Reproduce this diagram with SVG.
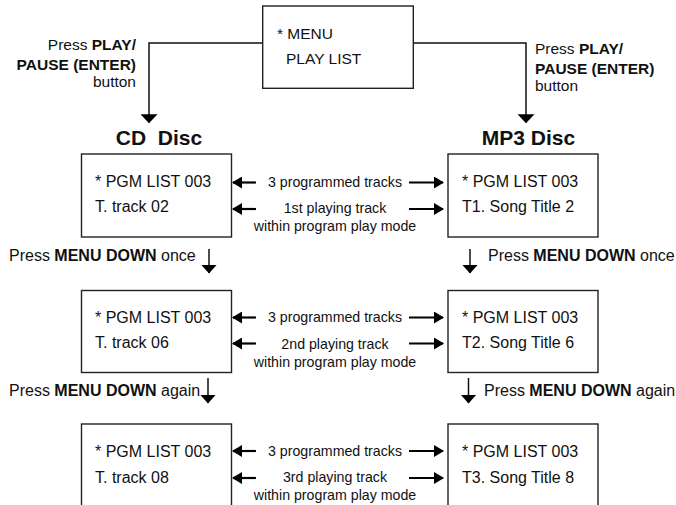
<svg xmlns="http://www.w3.org/2000/svg" width="676" height="505" viewBox="0 0 676 505">
<style>
  .box{fill:#fff;stroke:#222;stroke-width:1.4}
  .ln{fill:none;stroke:#111;stroke-width:1.5}
  .hz{fill:none;stroke:#000;stroke-width:2.2}
  text{font-family:"Liberation Sans",Arial,sans-serif;fill:#111}
  .t16{font-size:16px}
  .t15{font-size:15.5px}
  .mid{font-size:14.2px;text-anchor:middle}
  .hd{font-size:21px;font-weight:bold;text-anchor:middle}
  .b{font-weight:bold}
</style>
<defs>
  <marker id="ah" markerUnits="userSpaceOnUse" viewBox="0 0 10 12" refX="9" refY="6" markerWidth="10" markerHeight="12" orient="auto">
    <path d="M0,0 L10,6 L0,12 z" fill="#000"/>
  </marker>
  <marker id="ad" markerUnits="userSpaceOnUse" viewBox="0 0 9 16" refX="8.5" refY="8" markerWidth="9" markerHeight="16" orient="auto">
    <path d="M0,0 L9,8 L0,16 z" fill="#000"/>
  </marker>
  <marker id="at" markerUnits="userSpaceOnUse" viewBox="0 0 9 17" refX="8.5" refY="8.5" markerWidth="9" markerHeight="17" orient="auto">
    <path d="M0,0 L9,8.5 L0,17 z" fill="#000"/>
  </marker>
</defs>

<g id="connectors">
  <polyline class="ln" points="262.7,43 149,43 149,122.7" marker-end="url(#at)"/>
  <polyline class="ln" points="413.3,43 526,43 526,122.7" marker-end="url(#at)"/>
  <!-- row 1 -->
  <line class="hz" x1="256" y1="182.5" x2="233" y2="182.5" marker-end="url(#ah)"/>
  <line class="hz" x1="409" y1="182.5" x2="443" y2="182.5" marker-end="url(#ah)"/>
  <line class="hz" x1="256" y1="209" x2="233" y2="209" marker-end="url(#ah)"/>
  <line class="hz" x1="409" y1="209" x2="443" y2="209" marker-end="url(#ah)"/>
  <!-- down once -->
  <line class="ln" x1="209" y1="249" x2="209" y2="273" marker-end="url(#ad)"/>
  <line class="ln" x1="470" y1="249" x2="470" y2="273" marker-end="url(#ad)"/>
  <!-- row 2 -->
  <line class="hz" x1="256" y1="317.5" x2="233" y2="317.5" marker-end="url(#ah)"/>
  <line class="hz" x1="409" y1="317.5" x2="443" y2="317.5" marker-end="url(#ah)"/>
  <line class="hz" x1="256" y1="343.5" x2="233" y2="343.5" marker-end="url(#ah)"/>
  <line class="hz" x1="409" y1="343.5" x2="443" y2="343.5" marker-end="url(#ah)"/>
  <!-- down again -->
  <line class="ln" x1="208" y1="378" x2="208" y2="403" marker-end="url(#ad)"/>
  <line class="ln" x1="468.5" y1="378" x2="468.5" y2="403" marker-end="url(#ad)"/>
  <!-- row 3 -->
  <line class="hz" x1="256" y1="451" x2="233" y2="451" marker-end="url(#ah)"/>
  <line class="hz" x1="409" y1="451" x2="443" y2="451" marker-end="url(#ah)"/>
  <line class="hz" x1="256" y1="478" x2="233" y2="478" marker-end="url(#ah)"/>
  <line class="hz" x1="409" y1="478" x2="443" y2="478" marker-end="url(#ah)"/>
</g>

<g id="menu">
  <rect class="box" x="262.7" y="6" width="150.6" height="82.3"/>
  <text class="t15" x="277" y="39">* MENU</text>
  <text class="t15" x="286" y="64">PLAY LIST</text>
</g>

<g id="label-play-left">
  <text class="t15" text-anchor="end" x="136" y="50">Press <tspan class="b">PLAY/</tspan></text>
  <text class="t15 b" text-anchor="end" x="136" y="70">PAUSE (ENTER)</text>
  <text class="t15" text-anchor="end" x="136" y="87">button</text>
</g>
<g id="label-play-right">
  <text class="t15" x="535" y="54">Press <tspan class="b">PLAY/</tspan></text>
  <text class="t15 b" x="535" y="74">PAUSE (ENTER)</text>
  <text class="t15" x="535" y="91">button</text>
</g>

<g id="headers">
  <text class="hd" x="159" y="145" xml:space="preserve">CD  Disc</text>
  <text class="hd" x="528.5" y="145">MP3 Disc</text>
</g>

<g id="cd1">
  <rect class="box" x="81.5" y="154" width="150" height="83"/>
  <text class="t16" x="95" y="186.5">* PGM LIST 003</text>
  <text class="t16" x="95" y="211.5">T. track 02</text>
</g>
<g id="mp31">
  <rect class="box" x="448" y="154" width="150" height="83"/>
  <text class="t16" x="462" y="186.5">* PGM LIST 003</text>
  <text class="t16" x="462" y="211.5">T1. Song Title 2</text>
</g>
<g id="mid1">
  <text class="mid" x="335" y="187">3 programmed tracks</text>
  <text class="mid" x="335" y="213">1st playing track</text>
  <text class="mid" x="335" y="231">within program play mode</text>
</g>

<g id="label-once">
  <text class="t16" x="9" y="261">Press <tspan class="b">MENU DOWN</tspan> once</text>
  <text class="t16" x="488" y="261">Press <tspan class="b">MENU DOWN</tspan> once</text>
</g>

<g id="cd2">
  <rect class="box" x="81.5" y="290.5" width="150" height="82"/>
  <text class="t16" x="95" y="323">* PGM LIST 003</text>
  <text class="t16" x="95" y="348">T. track 06</text>
</g>
<g id="mp32">
  <rect class="box" x="448" y="290.5" width="150" height="82"/>
  <text class="t16" x="462" y="323">* PGM LIST 003</text>
  <text class="t16" x="462" y="348">T2. Song Title 6</text>
</g>
<g id="mid2">
  <text class="mid" x="335" y="322">3 programmed tracks</text>
  <text class="mid" x="335" y="348.5">2nd playing track</text>
  <text class="mid" x="335" y="366.5">within program play mode</text>
</g>

<g id="label-again">
  <text class="t16" x="9" y="396">Press <tspan class="b">MENU DOWN</tspan> again</text>
  <text class="t16" x="484" y="396">Press <tspan class="b">MENU DOWN</tspan> again</text>
</g>

<g id="cd3">
  <rect class="box" x="81.5" y="424" width="150" height="90"/>
  <text class="t16" x="95" y="457">* PGM LIST 003</text>
  <text class="t16" x="95" y="483">T. track 08</text>
</g>
<g id="mp33">
  <rect class="box" x="448" y="424" width="150" height="90"/>
  <text class="t16" x="462" y="457">* PGM LIST 003</text>
  <text class="t16" x="462" y="483">T3. Song Title 8</text>
</g>
<g id="mid3">
  <text class="mid" x="335" y="455.5">3 programmed tracks</text>
  <text class="mid" x="335" y="482">3rd playing track</text>
  <text class="mid" x="335" y="500">within program play mode</text>
</g>
</svg>
